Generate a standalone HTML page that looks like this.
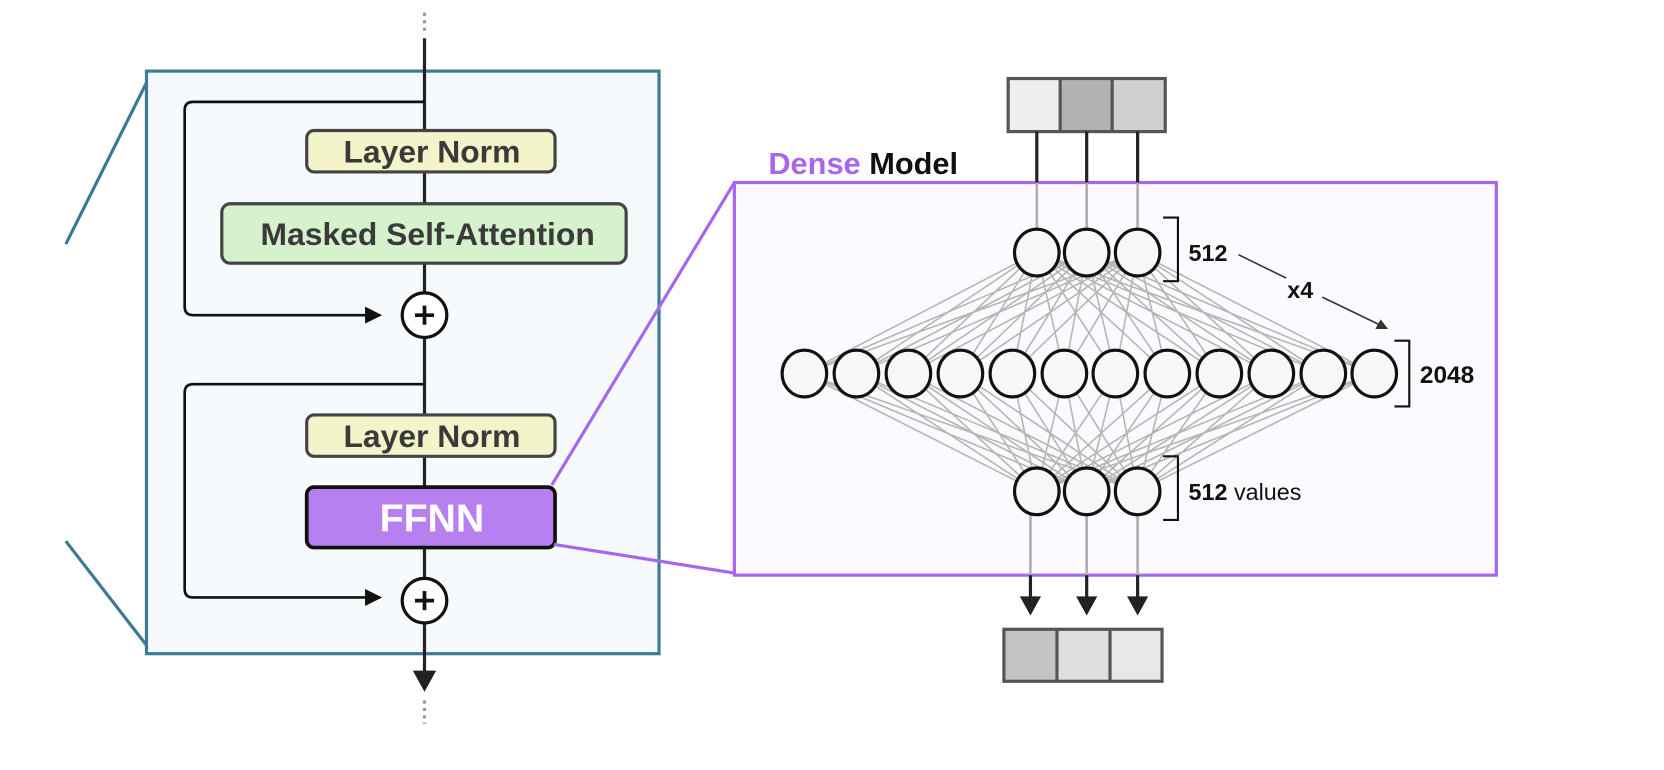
<!DOCTYPE html>
<html><head><meta charset="utf-8"><style>
html,body{margin:0;padding:0;background:#fff;}
svg{display:block;}
text{font-family:"Liberation Sans",sans-serif;}
</style></head><body>
<svg width="1664" height="770" viewBox="0 0 1568 725.6" xmlns="http://www.w3.org/2000/svg">
<line x1="138" y1="78" x2="62" y2="230" stroke="#3d7a96" stroke-width="3"/>
<line x1="62" y1="510" x2="138" y2="608" stroke="#3d7a96" stroke-width="3"/>
<rect x="138" y="67" width="483" height="549" fill="#f7fafd" stroke="#3d7a96" stroke-width="3"/>
<line x1="400" y1="12" x2="400" y2="32" stroke="#999" stroke-width="3" stroke-dasharray="3,4"/>
<line x1="400" y1="660" x2="400" y2="682" stroke="#999" stroke-width="3" stroke-dasharray="3,4"/>
<line x1="400" y1="36" x2="400" y2="634" stroke="#222" stroke-width="3"/>
<path d="M389,632 L411,632 L400,652 z" fill="#222"/>
<path d="M400,96 L182,96 Q174,96 174,104 L174,289 Q174,297 182,297 L358,297" fill="none" stroke="#111" stroke-width="2.5"/>
<path d="M344,289 L360,297 L344,305 z" fill="#111"/>
<path d="M400,362 L182,362 Q174,362 174,370 L174,555 Q174,563 182,563 L358,563" fill="none" stroke="#111" stroke-width="2.5"/>
<path d="M344,555 L360,563 L344,571 z" fill="#111"/>
<rect x="289" y="123" width="234" height="39" rx="7" fill="#f3f4c9" stroke="#444" stroke-width="3"/>
<text x="407" y="153" font-size="30" font-weight="bold" fill="#3a3a3a" text-anchor="middle">Layer Norm</text>
<rect x="209" y="192" width="381" height="56" rx="8" fill="#d6f2cd" stroke="#444" stroke-width="3"/>
<text x="403" y="231" font-size="30" font-weight="bold" fill="#3a3a3a" text-anchor="middle">Masked Self-Attention</text>
<rect x="289" y="391" width="234" height="39" rx="7" fill="#f3f4c9" stroke="#444" stroke-width="3"/>
<text x="407" y="421" font-size="30" font-weight="bold" fill="#3a3a3a" text-anchor="middle">Layer Norm</text>
<rect x="289" y="459" width="234" height="57" rx="7" fill="#b77ff0" stroke="#111" stroke-width="3.5"/>
<text x="407" y="501" font-size="37" font-weight="bold" fill="#fff" text-anchor="middle">FFNN</text>
<g stroke="#111" stroke-width="3" fill="#fff">
<circle cx="400" cy="297" r="21"/><circle cx="400" cy="566" r="21"/>
</g>
<g stroke="#111" stroke-width="3.5">
<line x1="391" y1="297" x2="409" y2="297"/><line x1="400" y1="288" x2="400" y2="306"/>
<line x1="391" y1="566" x2="409" y2="566"/><line x1="400" y1="557" x2="400" y2="575"/>
</g>
<line x1="520" y1="457" x2="692" y2="172" stroke="#a866ee" stroke-width="3"/>
<line x1="522" y1="513" x2="692" y2="540" stroke="#a866ee" stroke-width="3"/>
<rect x="692" y="172" width="718" height="370" fill="#fcfaff" stroke="#a866ee" stroke-width="3"/>
<text x="724" y="164" font-size="29" font-weight="bold"><tspan fill="#a866ee">Dense</tspan><tspan fill="#111"> Model</tspan></text>
<rect x="950" y="74" width="49" height="50" fill="#eeeeee"/>
<rect x="999" y="74" width="49" height="50" fill="#b2b2b2"/>
<rect x="1048" y="74" width="50" height="50" fill="#d0d0d0"/>
<rect x="950" y="74" width="148" height="50" fill="none" stroke="#555" stroke-width="3"/>
<line x1="999" y1="74" x2="999" y2="124" stroke="#555" stroke-width="3"/>
<line x1="1048" y1="74" x2="1048" y2="124" stroke="#555" stroke-width="3"/>
<g stroke="#222" stroke-width="3">
<line x1="977" y1="124" x2="977" y2="172"/><line x1="1024" y1="124" x2="1024" y2="172"/><line x1="1072" y1="124" x2="1072" y2="172"/>
</g>
<g stroke="#b0b0b0" stroke-width="2.5">
<line x1="977" y1="172" x2="977" y2="218"/><line x1="1024" y1="172" x2="1024" y2="218"/><line x1="1072" y1="172" x2="1072" y2="218"/>
<line x1="971" y1="484" x2="971" y2="542"/><line x1="1024" y1="484" x2="1024" y2="542"/><line x1="1072" y1="484" x2="1072" y2="542"/>
</g>
<g stroke="#b5b5b5" stroke-width="1.5">
<line x1="977" y1="238" x2="758" y2="352"/><line x1="977" y1="238" x2="807" y2="352"/><line x1="977" y1="238" x2="856" y2="352"/><line x1="977" y1="238" x2="905" y2="352"/><line x1="977" y1="238" x2="954" y2="352"/><line x1="977" y1="238" x2="1003" y2="352"/><line x1="977" y1="238" x2="1051" y2="352"/><line x1="977" y1="238" x2="1100" y2="352"/><line x1="977" y1="238" x2="1149" y2="352"/><line x1="977" y1="238" x2="1198" y2="352"/><line x1="977" y1="238" x2="1247" y2="352"/><line x1="977" y1="238" x2="1295" y2="352"/>
<line x1="1024" y1="238" x2="758" y2="352"/><line x1="1024" y1="238" x2="807" y2="352"/><line x1="1024" y1="238" x2="856" y2="352"/><line x1="1024" y1="238" x2="905" y2="352"/><line x1="1024" y1="238" x2="954" y2="352"/><line x1="1024" y1="238" x2="1003" y2="352"/><line x1="1024" y1="238" x2="1051" y2="352"/><line x1="1024" y1="238" x2="1100" y2="352"/><line x1="1024" y1="238" x2="1149" y2="352"/><line x1="1024" y1="238" x2="1198" y2="352"/><line x1="1024" y1="238" x2="1247" y2="352"/><line x1="1024" y1="238" x2="1295" y2="352"/>
<line x1="1072" y1="238" x2="758" y2="352"/><line x1="1072" y1="238" x2="807" y2="352"/><line x1="1072" y1="238" x2="856" y2="352"/><line x1="1072" y1="238" x2="905" y2="352"/><line x1="1072" y1="238" x2="954" y2="352"/><line x1="1072" y1="238" x2="1003" y2="352"/><line x1="1072" y1="238" x2="1051" y2="352"/><line x1="1072" y1="238" x2="1100" y2="352"/><line x1="1072" y1="238" x2="1149" y2="352"/><line x1="1072" y1="238" x2="1198" y2="352"/><line x1="1072" y1="238" x2="1247" y2="352"/><line x1="1072" y1="238" x2="1295" y2="352"/>
<line x1="977" y1="463" x2="758" y2="352"/><line x1="977" y1="463" x2="807" y2="352"/><line x1="977" y1="463" x2="856" y2="352"/><line x1="977" y1="463" x2="905" y2="352"/><line x1="977" y1="463" x2="954" y2="352"/><line x1="977" y1="463" x2="1003" y2="352"/><line x1="977" y1="463" x2="1051" y2="352"/><line x1="977" y1="463" x2="1100" y2="352"/><line x1="977" y1="463" x2="1149" y2="352"/><line x1="977" y1="463" x2="1198" y2="352"/><line x1="977" y1="463" x2="1247" y2="352"/><line x1="977" y1="463" x2="1295" y2="352"/>
<line x1="1024" y1="463" x2="758" y2="352"/><line x1="1024" y1="463" x2="807" y2="352"/><line x1="1024" y1="463" x2="856" y2="352"/><line x1="1024" y1="463" x2="905" y2="352"/><line x1="1024" y1="463" x2="954" y2="352"/><line x1="1024" y1="463" x2="1003" y2="352"/><line x1="1024" y1="463" x2="1051" y2="352"/><line x1="1024" y1="463" x2="1100" y2="352"/><line x1="1024" y1="463" x2="1149" y2="352"/><line x1="1024" y1="463" x2="1198" y2="352"/><line x1="1024" y1="463" x2="1247" y2="352"/><line x1="1024" y1="463" x2="1295" y2="352"/>
<line x1="1072" y1="463" x2="758" y2="352"/><line x1="1072" y1="463" x2="807" y2="352"/><line x1="1072" y1="463" x2="856" y2="352"/><line x1="1072" y1="463" x2="905" y2="352"/><line x1="1072" y1="463" x2="954" y2="352"/><line x1="1072" y1="463" x2="1003" y2="352"/><line x1="1072" y1="463" x2="1051" y2="352"/><line x1="1072" y1="463" x2="1100" y2="352"/><line x1="1072" y1="463" x2="1149" y2="352"/><line x1="1072" y1="463" x2="1198" y2="352"/><line x1="1072" y1="463" x2="1247" y2="352"/><line x1="1072" y1="463" x2="1295" y2="352"/>
</g>
<g fill="#f7f7f7" stroke="#111" stroke-width="3">
<ellipse cx="977" cy="238" rx="21" ry="22"/><ellipse cx="1024" cy="238" rx="21" ry="22"/><ellipse cx="1072" cy="238" rx="21" ry="22"/>
<ellipse cx="758" cy="352" rx="21" ry="22"/><ellipse cx="807" cy="352" rx="21" ry="22"/><ellipse cx="856" cy="352" rx="21" ry="22"/><ellipse cx="905" cy="352" rx="21" ry="22"/><ellipse cx="954" cy="352" rx="21" ry="22"/><ellipse cx="1003" cy="352" rx="21" ry="22"/><ellipse cx="1051" cy="352" rx="21" ry="22"/><ellipse cx="1100" cy="352" rx="21" ry="22"/><ellipse cx="1149" cy="352" rx="21" ry="22"/><ellipse cx="1198" cy="352" rx="21" ry="22"/><ellipse cx="1247" cy="352" rx="21" ry="22"/><ellipse cx="1295" cy="352" rx="21" ry="22"/>
<ellipse cx="977" cy="463" rx="21" ry="22"/><ellipse cx="1024" cy="463" rx="21" ry="22"/><ellipse cx="1072" cy="463" rx="21" ry="22"/>
</g>
<g fill="none" stroke="#111" stroke-width="2">
<path d="M1096,205 L1110,205 L1110,265 L1096,265"/>
<path d="M1314,321 L1328,321 L1328,383 L1314,383"/>
<path d="M1096,430 L1110,430 L1110,490 L1096,490"/>
</g>
<text x="1120" y="246" font-size="22" font-weight="bold" fill="#111">512</text>
<text x="1338" y="361" font-size="23" font-weight="bold" fill="#111">2048</text>
<text x="1120" y="471" font-size="22" fill="#111"><tspan font-weight="bold">512</tspan> values</text>
<line x1="1167" y1="240" x2="1212" y2="262" stroke="#333" stroke-width="1.5"/>
<text x="1213" y="281" font-size="22" font-weight="bold" fill="#111">x4</text>
<line x1="1246" y1="280" x2="1300" y2="306" stroke="#333" stroke-width="1.5"/>
<path d="M1308,310 L1296,310 L1301,301 z" fill="#333"/>
<g stroke="#222" stroke-width="3">
<line x1="971" y1="542" x2="971" y2="566"/><line x1="1024" y1="542" x2="1024" y2="566"/><line x1="1072" y1="542" x2="1072" y2="566"/>
</g>
<g fill="#222">
<path d="M961,562 L981,562 L971,580 z"/><path d="M1014,562 L1034,562 L1024,580 z"/><path d="M1062,562 L1082,562 L1072,580 z"/>
</g>
<rect x="946" y="593" width="50" height="49" fill="#c4c4c4"/>
<rect x="996" y="593" width="50" height="49" fill="#dedede"/>
<rect x="1046" y="593" width="49" height="49" fill="#e8e8e8"/>
<rect x="946" y="593" width="149" height="49" fill="none" stroke="#555" stroke-width="3"/>
<line x1="996" y1="593" x2="996" y2="642" stroke="#555" stroke-width="3"/>
<line x1="1046" y1="593" x2="1046" y2="642" stroke="#555" stroke-width="3"/>
</svg>
</body></html>
